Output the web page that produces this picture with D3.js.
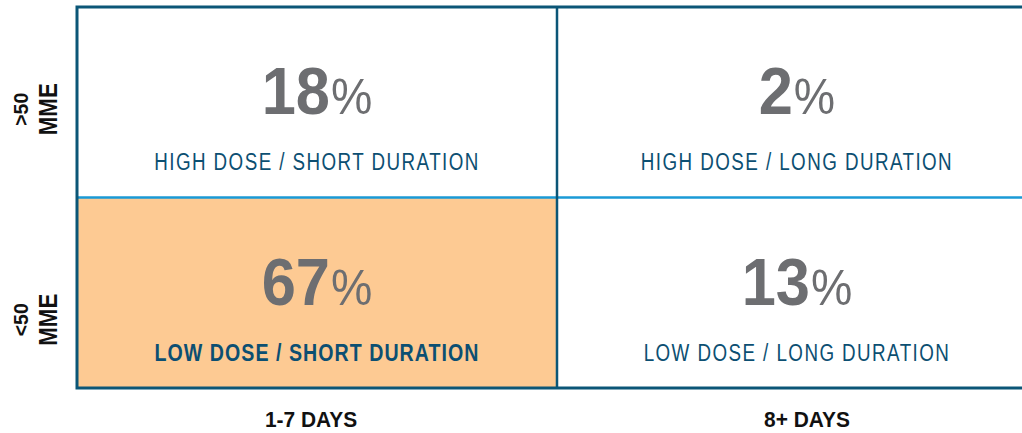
<!DOCTYPE html>
<html>
<head>
<meta charset="utf-8">
<script src="https://cdnjs.cloudflare.com/ajax/libs/d3/7.8.5/d3.min.js"></script>
<style>
  body { margin: 0; background: #fff; }
  svg { display: block; }
  text { font-family: "Liberation Sans", Arial, sans-serif; }
  .pct { fill: #6d6e71; }
  .cell-label { fill: #0c4f72; }
  .axis-label { font-weight: bold; fill: #111; }
</style>
</head>
<body>
<svg width="1022" height="433"></svg>
<script>
// columns (duration) and rows (dose)
var durations = ["1-7 DAYS", "8+ DAYS"];
var doses = [">50", "<50"];
var doseUnit = "MME";

// cells, in reading order
var cellDose = [">50", ">50", "<50", "<50"];
var cellDuration = ["1-7 DAYS", "8+ DAYS", "1-7 DAYS", "8+ DAYS"];
var cellPct = [18, 2, 67, 13];
var cellLabel = ["HIGH DOSE / SHORT DURATION", "HIGH DOSE / LONG DURATION",
                 "LOW DOSE / SHORT DURATION", "LOW DOSE / LONG DURATION"];
var cellHighlight = [false, false, true, false];

function main() {
    var svg = d3.select("svg");

    var x = d3.scaleBand().domain(durations).range([77, 1037]);
    var y = d3.scaleBand().domain(doses).range([7, 388]);

    var cells = cellPct.map(function(v, i) {
        return { dose: cellDose[i], duration: cellDuration[i], pct: v,
                 label: cellLabel[i], hi: cellHighlight[i] };
    });

    function cx(d) { return x(d.duration) + x.bandwidth() / 2; }

    // cell backgrounds (only the highlighted one is coloured)
    svg.selectAll(".cell")
        .data(cells)
        .enter().append("rect")
        .attr("class", "cell")
        .attr("x", function(d) { return x(d.duration); })
        .attr("y", function(d) { return y(d.dose); })
        .attr("width", x.bandwidth())
        .attr("height", y.bandwidth())
        .attr("fill", function(d) { return d.hi ? "#fdca93" : "#fff"; });

    // row divider (light blue)
    svg.append("line")
        .attr("x1", x.range()[0]).attr("x2", x.range()[1])
        .attr("y1", y(doses[1])).attr("y2", y(doses[1]))
        .attr("stroke", "#1a9ad6").attr("stroke-width", 2.5);

    // column divider
    svg.append("line")
        .attr("x1", x(durations[1])).attr("x2", x(durations[1]))
        .attr("y1", y.range()[0]).attr("y2", y.range()[1])
        .attr("stroke", "#0b5677").attr("stroke-width", 2.5);

    // outer frame
    svg.append("rect")
        .attr("x", x.range()[0]).attr("y", y.range()[0])
        .attr("width", x.range()[1] - x.range()[0])
        .attr("height", y.range()[1] - y.range()[0])
        .attr("fill", "none")
        .attr("stroke", "#0b5677").attr("stroke-width", 3);

    // percentages
    var pct = svg.selectAll(".pct")
        .data(cells)
        .enter().append("text")
        .attr("class", "pct")
        .attr("text-anchor", "middle")
        .attr("transform", function(d) {
            return "translate(" + cx(d) + "," + (y(d.dose) + 107) + ") scale(0.93,1)";
        });
    pct.append("tspan")
        .style("font-size", "66px").style("font-weight", "bold")
        .text(function(d) { return d.pct; });
    pct.append("tspan")
        .style("font-size", "50px")
        .attr("dx", 1)
        .text("%");

    // cell labels (condensed look)
    svg.selectAll(".cell-label")
        .data(cells)
        .enter().append("text")
        .attr("class", "cell-label")
        .attr("text-anchor", "middle")
        .attr("transform", function(d) {
            return "translate(" + cx(d) + "," + (y(d.dose) + 163) + ") scale(0.8,1)";
        })
        .style("font-size", function(d) { return d.hi ? "24.5px" : "23.5px"; })
        .style("letter-spacing", function(d) { return d.hi ? "1.3px" : "1.8px"; })
        .style("font-weight", function(d) { return d.hi ? "bold" : "normal"; })
        .text(function(d) { return d.label; });

    // bottom axis labels
    svg.selectAll(".x-label")
        .data(durations)
        .enter().append("text")
        .attr("class", "axis-label x-label")
        .attr("text-anchor", "middle")
        .attr("transform", function(d, i) {
            var c = x(d) + x.bandwidth() / 2 + (i === 0 ? -6 : 10);
            return "translate(" + c + ",427) scale(0.93,1)";
        })
        .style("font-size", "22.5px")
        .text(function(d) { return d; });

    // left axis labels, rotated
    var yl = svg.selectAll(".y-label")
        .data(doses)
        .enter().append("text")
        .attr("class", "axis-label y-label")
        .attr("text-anchor", "middle")
        .attr("transform", function(d, i) {
            var c = y(d) + y.bandwidth() / 2 + (i === 0 ? 7 : 27);
            return "translate(28," + c + ") rotate(-90)";
        });
    yl.append("tspan")
        .attr("x", 0).attr("y", 0)
        .style("font-size", "19.5px")
        .text(function(d) { return d; });
    yl.append("tspan")
        .attr("x", 0).attr("dy", 29)
        .style("font-size", "25px")
        .attr("textLength", 52)
        .attr("lengthAdjust", "spacingAndGlyphs")
        .text(doseUnit);
}
main();
</script>
</body>
</html>
